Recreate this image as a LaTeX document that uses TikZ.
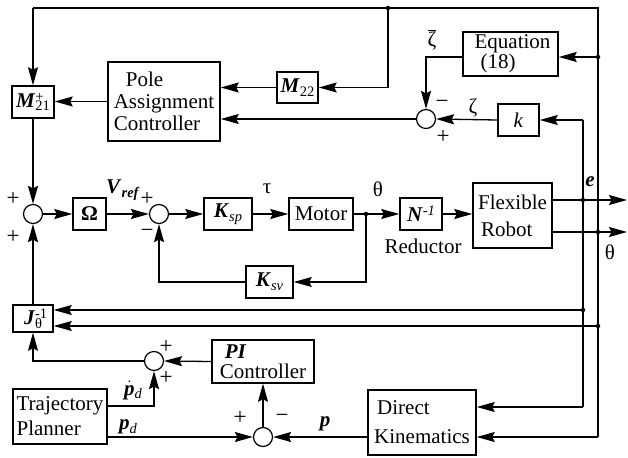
\documentclass[tikz,border=0pt]{standalone}
\usepackage{fontspec}
\setmainfont{Liberation Serif}
\usetikzlibrary{arrows.meta,calc}
\newcommand{\bi}[1]{\textbf{\textit{#1}}}
\newcommand{\mysub}[1]{\raisebox{-0.4ex}{\fontsize{14.5}{14.5}\selectfont #1}}
\newcommand{\mysup}[1]{\raisebox{0.6ex}{\fontsize{14.5}{14.5}\selectfont #1}}
\newcommand{\supsub}[2]{\makebox[0pt][l]{\mysup{#1}}\mysub{#2}}
\begin{document}
\begin{tikzpicture}[x=1pt,y=-1pt,
  every node/.style={font=\fontsize{21}{22}\selectfont},
  blk/.style={draw, line width=1.5pt, inner sep=0pt, align=left},
  sumc/.style={circle, draw, line width=1.2pt, minimum size=19pt, inner sep=0pt},
  wire/.style={line width=1.3pt},
  arw/.style={wire, -{Stealth[length=18pt,width=10pt,inset=2.5pt]}},
  jdot/.style={circle, fill, inner sep=0pt, minimum size=4.5pt},
  lab/.style={inner sep=0pt},
  sgn/.style={inner sep=0pt, font=\fontsize{23}{23}\selectfont}]
\useasboundingbox (0,0) rectangle (628,457);

% blocks
\node[blk, minimum width=42pt, minimum height=32pt] (M21) at (33,102) {\bi{M}\supsub{+}{21}};
\node[blk, minimum width=112pt, minimum height=79pt] (PAC) at (164,101.5) {\hspace*{12pt}Pole\\Assignment\\Controller};
\node[blk, minimum width=41pt, minimum height=31pt] (M22) at (297.5,87.5) {\bi{M}\mysub{22}};
\node[blk, minimum width=95pt, minimum height=44pt, font=\fontsize{21}{18}\selectfont] (Eq) at (510.5,54) {\hspace*{4pt}Equation\\\hspace*{10pt}(18)};
\node[blk, minimum width=41pt, minimum height=32pt] (k) at (518.5,120) {\textit{k}};
\node[sumc] (sZ) at (426,119) {};
\node[sumc] (s1) at (33,214) {};
\node[blk, minimum width=33pt, minimum height=32pt] (Om) at (89.5,214) {\textbf{Ω}};
\node[sumc] (s2) at (159,214) {};
\node[blk, minimum width=48pt, minimum height=32pt] (Ksp) at (228,214) {\bi{K}\mysub{\textit{sp}}};
\node[blk, minimum width=64pt, minimum height=32pt] (Mot) at (321,214) {Motor};
\node[blk, minimum width=47pt, minimum height=32pt] (Ksv) at (269.5,282) {\bi{K}\mysub{\textit{sv}}};
\node[blk, minimum width=42pt, minimum height=32pt] (N) at (421,214) {\bi{N}\mysup{\textit{-1}}};
\node[blk, minimum width=79pt, minimum height=65pt, font=\fontsize{21}{27}\selectfont] (FR) at (512.5,215.5) {Flexible\\\hspace*{3pt}Robot};
\node[blk, minimum width=40pt, minimum height=27pt] (J) at (33,318.5) {\bi{J}\supsub{-1}{θ}};
\node[sumc] (s3) at (154,361) {};
\node[blk, minimum width=102pt, minimum height=43pt, font=\fontsize{21}{20}\selectfont] (PI) at (263,361.5) {\hspace*{5pt}\bi{PI}\\Controller};
\node[blk, minimum width=94pt, minimum height=55pt, font=\fontsize{21}{25}\selectfont] (TP) at (60,416.5) {Trajectory\\Planner};
\node[sumc] (s4) at (263,437) {};
\node[blk, minimum width=108pt, minimum height=65pt, font=\fontsize{21}{29}\selectfont] (DK) at (422,422.5) {\hspace*{3pt}Direct\\Kinematics};

% junctions
\node[jdot] (jTop) at (388,8) {};
\coordinate (cTL) at (33,8);
\coordinate (cTR) at (598,8);
\node[jdot] (jEq) at (598,57) {};
\coordinate (zb) at (426,57);
\coordinate (ek) at (583,120);
\node[jdot] (jM) at (366,214) {};
\node[jdot] (je) at (583,200) {};
\node[jdot] (jt) at (598,232) {};
\node[jdot] (je2) at (583,310) {};
\node[jdot] (jt2) at (598,326) {};
\coordinate (eEnd) at (627,200);
\coordinate (tEnd) at (627,232);
\coordinate (eDK) at (583,407);
\coordinate (tDK) at (598,437);
\coordinate (pd) at (154,406);

% connectors
\draw[wire] (cTL) -- (cTR) -- (tDK);
\draw[arw] (cTL) -- (M21.north);
\draw[arw] (jTop.center) |- (M22.east);
\draw[arw] (jEq.center) -- (jEq -| Eq.east);
\draw[arw] (zb -| Eq.west) -- (zb) -- (sZ.north);
\draw[arw] (k.west) -- (sZ.east);
\draw[arw] (sZ.west) -- (sZ.west -| PAC.east);
\draw[arw] (M22.west) -- (M22.west -| PAC.east);
\draw[arw] (PAC.west) -- (PAC.west -| M21.east);
\draw[arw] (M21.south) -- (s1.north);
\draw[arw] (s1.east) -- (Om.west);
\draw[arw] (Om.east) -- (s2.west);
\draw[arw] (s2.east) -- (Ksp.west);
\draw[arw] (Ksp.east) -- (Mot.west);
\draw[wire] (Mot.east) -- (jM.center);
\draw[arw] (jM.center) -- (N.west);
\draw[arw] (N.east) -- (N.east -| FR.west);
\draw[arw] (jM.center) |- (Ksv.east);
\draw[arw] (Ksv.west) -| (s2.south);
\draw[arw] (FR.east |- je) -- (eEnd);
\draw[arw] (FR.east |- jt) -- (tEnd);
\draw[wire] (ek) -- (eDK);
\draw[arw] (ek) -- (k.east);
\draw[arw] (eDK) -- (eDK -| DK.east);
\draw[arw] (tDK) -- (tDK -| DK.east);
\draw[arw] (je2.center) -- (je2 -| J.east);
\draw[arw] (jt2.center) -- (jt2 -| J.east);
\draw[arw] (J.north) -- (s1.south);
\draw[arw] (s3.west) -| (J.south);
\draw[arw] (PI.west) -- (s3.east);
\draw[arw] (pd -| TP.east) -- (pd) -- (s3.south);
\draw[arw] (TP.east |- s4) -- (s4.west);
\draw[arw] (DK.west |- s4) -- (s4.east);
\draw[arw] (s4.north) -- (PI.south);

% signs
\node[sgn] (p1a) at (13,199) {+};
\node[sgn] (p1b) at (13,237) {+};
\node[sgn] (p2a) at (147,199) {+};
\node[sgn] (m2b) at (147,233) {−};
\node[sgn] (mZa) at (442,104) {−};
\node[sgn] (pZb) at (443,137) {+};
\node[sgn] (p3a) at (166,347) {+};
\node[sgn] (p3b) at (166,378) {+};
\node[sgn] (p4a) at (240,418) {+};
\node[sgn] (m4b) at (282,418) {−};

% labels
\node[lab] (lV) at (123,190) {\bi{V}\mysub{\bi{ref}}};
\node[lab] (ltau) at (267,189) {τ};
\node[lab] (lth1) at (378,189) {θ};
\node[lab] (lred) at (423,246) {Reductor};
\node[lab] (le) at (590,182) {\bi{e}};
\node[lab] (lth2) at (610,252) {θ};
\node[lab] (lzb) at (432,40) {$\overline{\mbox{ζ}}$};
\node[lab] (lz) at (473,108) {ζ};
\node[lab] (lpdot) at (133,390) {$\dot{\mbox{\bi{p}}}$\mysub{\textit{d}}};
\node[lab] (lpd) at (128,427) {\bi{p}\mysub{\textit{d}}};
\node[lab] (lp) at (325,424) {\bi{p}};
\end{tikzpicture}
\end{document}
